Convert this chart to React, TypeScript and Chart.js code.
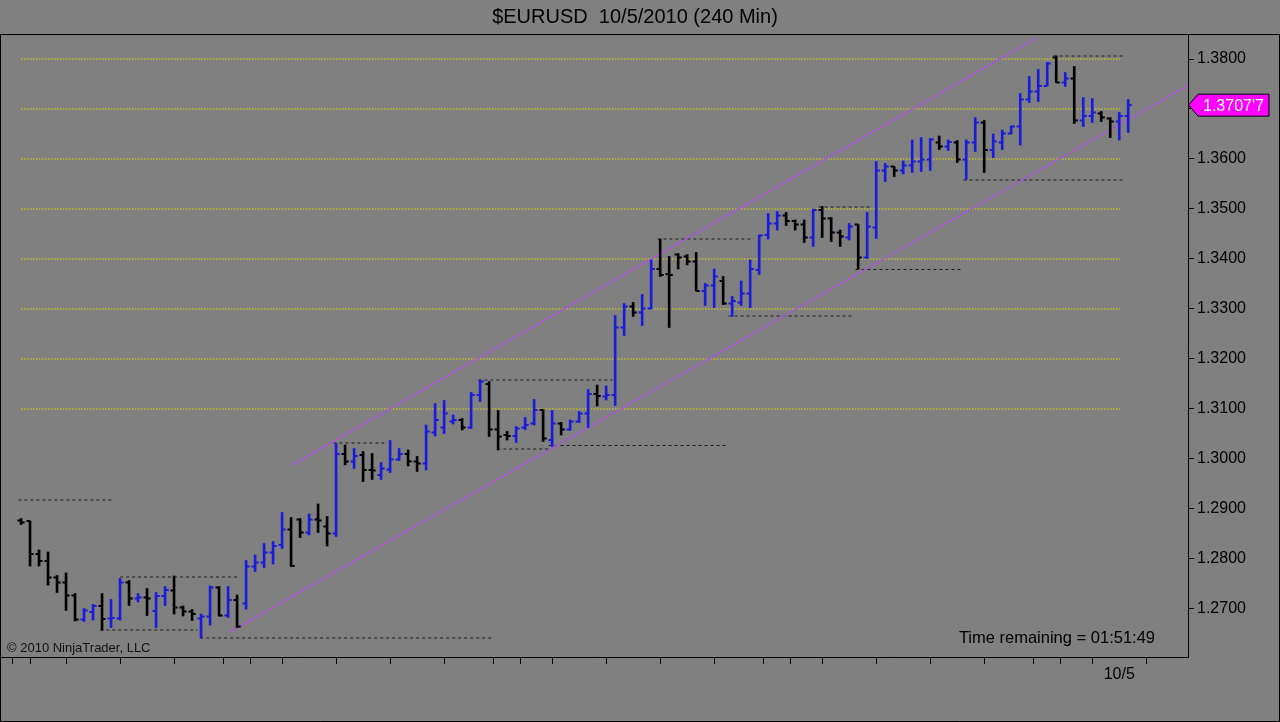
import React, { useEffect, useRef } from "react";
import { Chart, registerables } from "chart.js";
Chart.register(...registerables);

// ---- OHLC data (240 min bars, EURUSD) ----
const opens = [
  1.2877, 1.2876, 1.2810, 1.2796, 1.2763, 1.2753, 1.2727, 1.2679, 1.2694, 1.2706,
  1.2681, 1.2681, 1.2753, 1.2721, 1.2723, 1.2696, 1.2726, 1.2737, 1.2703, 1.2695,
  1.2681, 1.2685, 1.2743, 1.2687, 1.2718, 1.2711, 1.2785, 1.2793, 1.2813, 1.2828,
  1.2859, 1.2879, 1.2853, 1.2879, 1.2865, 1.2851, 1.3010, 1.2995, 1.3008, 1.2978,
  1.2968, 1.2979, 1.2999, 1.3010, 1.2995, 1.2991, 1.3053, 1.3063, 1.3075, 1.3078,
  1.3063, 1.3128, 1.3150, 1.3059, 1.3048, 1.3046, 1.3063, 1.3071, 1.3098, 1.3038,
  1.3071, 1.3059, 1.3075, 1.3091, 1.3130, 1.3125, 1.3128, 1.3263, 1.3305, 1.3293,
  1.3301, 1.3380, 1.3370, 1.3409, 1.3405, 1.3395, 1.3336, 1.3347, 1.3356, 1.3311,
  1.3313, 1.3331, 1.3378, 1.3448, 1.3471, 1.3487, 1.3476, 1.3469, 1.3443, 1.3498,
  1.3481, 1.3453, 1.3443, 1.3469, 1.3403, 1.3463, 1.3577, 1.3585, 1.3577, 1.3587,
  1.3595, 1.3599, 1.3633, 1.3625, 1.3633, 1.3599, 1.3633, 1.3673, 1.3618, 1.3633,
  1.3651, 1.3665, 1.3719, 1.3735, 1.3746, 1.3803, 1.3753, 1.3761, 1.3677, 1.3686,
  1.3691, 1.3681, 1.3675, 1.3686,
];
const highs = [
  1.2881, 1.2876, 1.2818, 1.2814, 1.2767, 1.2772, 1.2731, 1.2701, 1.2709, 1.2731,
  1.2719, 1.2761, 1.2757, 1.2731, 1.2741, 1.2733, 1.2745, 1.2766, 1.2706, 1.2699,
  1.2690, 1.2746, 1.2745, 1.2745, 1.2728, 1.2797, 1.2808, 1.2831, 1.2835, 1.2893,
  1.2883, 1.2881, 1.2890, 1.2910, 1.2885, 1.3031, 1.3028, 1.3021, 1.3015, 1.3011,
  1.2993, 1.3037, 1.3021, 1.3018, 1.3005, 1.3068, 1.3111, 1.3117, 1.3088, 1.3081,
  1.3133, 1.3158, 1.3155, 1.3097, 1.3055, 1.3065, 1.3083, 1.3119, 1.3099, 1.3097,
  1.3073, 1.3078, 1.3095, 1.3139, 1.3148, 1.3146, 1.3287, 1.3311, 1.3313, 1.3329,
  1.3398, 1.3440, 1.3405, 1.3411, 1.3409, 1.3413, 1.3351, 1.3380, 1.3365, 1.3325,
  1.3356, 1.3398, 1.3448, 1.3491, 1.3495, 1.3493, 1.3478, 1.3478, 1.3500, 1.3505,
  1.3483, 1.3458, 1.3471, 1.3469, 1.3493, 1.3595, 1.3591, 1.3585, 1.3596, 1.3638,
  1.3643, 1.3641, 1.3646, 1.3638, 1.3637, 1.3638, 1.3683, 1.3677, 1.3650, 1.3658,
  1.3666, 1.3731, 1.3765, 1.3779, 1.3793, 1.3806, 1.3773, 1.3785, 1.3723, 1.3721,
  1.3695, 1.3683, 1.3693, 1.3719,
];
const lows = [
  1.2869, 1.2786, 1.2786, 1.2748, 1.2733, 1.2697, 1.2676, 1.2675, 1.2678, 1.2658,
  1.2663, 1.2678, 1.2707, 1.2714, 1.2687, 1.2663, 1.2707, 1.2690, 1.2686, 1.2677,
  1.2642, 1.2668, 1.2686, 1.2683, 1.2663, 1.2700, 1.2775, 1.2783, 1.2790, 1.2821,
  1.2785, 1.2843, 1.2848, 1.2853, 1.2826, 1.2845, 1.2988, 1.2981, 1.2955, 1.2959,
  1.2959, 1.2973, 1.2997, 1.2986, 1.2975, 1.2978, 1.3046, 1.3051, 1.3070, 1.3058,
  1.3061, 1.3115, 1.3045, 1.3018, 1.3038, 1.3033, 1.3059, 1.3068, 1.3035, 1.3025,
  1.3048, 1.3057, 1.3073, 1.3063, 1.3106, 1.3118, 1.3107, 1.3247, 1.3285, 1.3267,
  1.3300, 1.3365, 1.3263, 1.3380, 1.3388, 1.3336, 1.3307, 1.3303, 1.3309, 1.3285,
  1.3307, 1.3303, 1.3369, 1.3440, 1.3458, 1.3467, 1.3458, 1.3433, 1.3425, 1.3443,
  1.3435, 1.3425, 1.3438, 1.3380, 1.3401, 1.3441, 1.3555, 1.3565, 1.3570, 1.3573,
  1.3575, 1.3577, 1.3619, 1.3617, 1.3593, 1.3559, 1.3615, 1.3573, 1.3603, 1.3619,
  1.3650, 1.3628, 1.3713, 1.3715, 1.3746, 1.3753, 1.3745, 1.3671, 1.3665, 1.3673,
  1.3675, 1.3643, 1.3638, 1.3653,
];
const closes = [
  1.2873, 1.2810, 1.2796, 1.2763, 1.2753, 1.2727, 1.2679, 1.2697, 1.2706, 1.2680,
  1.2682, 1.2753, 1.2721, 1.2723, 1.2721, 1.2726, 1.2738, 1.2703, 1.2695, 1.2690,
  1.2685, 1.2743, 1.2687, 1.2718, 1.2665, 1.2785, 1.2793, 1.2813, 1.2826, 1.2859,
  1.2786, 1.2853, 1.2879, 1.2877, 1.2851, 1.3010, 1.2995, 1.3006, 1.2978, 1.2977,
  1.2981, 1.2999, 1.3010, 1.2995, 1.2991, 1.3055, 1.3078, 1.3091, 1.3078, 1.3063,
  1.3128, 1.3155, 1.3059, 1.3045, 1.3046, 1.3061, 1.3068, 1.3098, 1.3041, 1.3071,
  1.3059, 1.3075, 1.3091, 1.3130, 1.3126, 1.3128, 1.3263, 1.3305, 1.3293, 1.3301,
  1.3380, 1.3368, 1.3368, 1.3403, 1.3395, 1.3336, 1.3347, 1.3365, 1.3311, 1.3316,
  1.3331, 1.3380, 1.3447, 1.3471, 1.3487, 1.3476, 1.3469, 1.3443, 1.3498, 1.3481,
  1.3453, 1.3445, 1.3465, 1.3403, 1.3465, 1.3577, 1.3585, 1.3577, 1.3587, 1.3595,
  1.3599, 1.3639, 1.3625, 1.3634, 1.3599, 1.3633, 1.3673, 1.3618, 1.3635, 1.3651,
  1.3665, 1.3719, 1.3735, 1.3746, 1.3791, 1.3753, 1.3761, 1.3677, 1.3686, 1.3693,
  1.3683, 1.3675, 1.3686, 1.37077,
];

// ---- axis ticks ----
const xTickIdx = [0, 2, 8, 14, 20, 25, 26, 32, 38, 44, 50, 55, 56, 62, 68, 74, 80, 85, 86, 92, 98, 104, 110, 115, 116, 122];
const xLabelIdx = [122];
const xLabelText = ["10/5"];
const yTicks = [1.27, 1.28, 1.29, 1.30, 1.31, 1.32, 1.33, 1.34, 1.35, 1.36, 1.37, 1.38];

// ---- horizontal yellow levels ----
const goldLevels = [1.31, 1.32, 1.33, 1.34, 1.35, 1.36, 1.37, 1.38];
const goldStart = 0.0;
const goldEnd = 122.1;

// ---- dashed support / resistance lines ----
const dashLevels = [1.2918, 1.2764, 1.2658, 1.2642, 1.3032, 1.3158, 1.3020, 1.3027, 1.3440, 1.3286, 1.3504, 1.3379, 1.3558, 1.3806];
const dashStart = [-0.3, 11.0, 8.8, 19.9, 34.7, 50.8, 52.9, 58.6, 70.7, 78.6, 88.6, 92.7, 104.7, 114.7];
const dashEnd = [10.4, 24.3, 19.6, 52.4, 40.4, 65.7, 58.6, 78.4, 81.4, 92.4, 94.3, 104.6, 122.4, 122.4];

// ---- trend channel ----
const upperX = [30.1, 112.8];
const upperY = [1.2988, 1.3842];
const lowerX = [23.2, 129.7];
const lowerY = [1.2654, 1.3748];

const X_MIN = -1.67;
const X_MAX = 129.64;
const Y_MIN = 1.2604;
const Y_MAX = 1.3848;

const FONT = "'Liberation Sans', Arial, sans-serif";
const UP = "#1b1bdc";
const DOWN = "#000000";

export default function App() {
  const ref = useRef<HTMLCanvasElement | null>(null);

  useEffect(() => {
    document.body.style.margin = "0";
    document.body.style.background = "#808080";
    const canvas = ref.current;
    if (!canvas) return;

    const colors = closes.map((c, i) => (c > opens[i] ? UP : DOWN));

    const datasets: any[] = [];

    goldLevels.forEach((lvl) => {
      datasets.push({
        type: "line",
        data: [
          { x: goldStart, y: lvl },
          { x: goldEnd, y: lvl },
        ],
        borderColor: "#dede00",
        borderWidth: 1.2,
        borderDash: [1.5, 1.5],
        pointRadius: 0,
        order: 10,
      });
    });

    dashLevels.forEach((lvl, k) => {
      datasets.push({
        type: "line",
        data: [
          { x: dashStart[k], y: lvl },
          { x: dashEnd[k], y: lvl },
        ],
        borderColor: "#1e1e1e",
        borderWidth: 1,
        borderDash: [3, 3],
        pointRadius: 0,
        order: 9,
      });
    });

    [
      [upperX, upperY],
      [lowerX, lowerY],
    ].forEach(([xs, ys]) => {
      datasets.push({
        type: "line",
        data: xs.map((x, k) => ({ x, y: ys[k] })),
        borderColor: "#a25ccb",
        borderWidth: 1.6,
        pointRadius: 0,
        order: 8,
      });
    });

    datasets.push({
      type: "bar",
      data: highs.map((h, i) => ({ x: i, y: [lows[i], h] })),
      backgroundColor: colors,
      borderWidth: 0,
      barThickness: 2,
      grouped: false,
      order: 3,
    });

    datasets.push({
      type: "scatter",
      data: opens.map((o, i) => ({ x: i - 0.2, y: o })),
      pointStyle: "line",
      pointRadius: 1.8,
      pointBorderWidth: 2,
      pointBorderColor: colors,
      pointBackgroundColor: colors,
      showLine: false,
      order: 2,
    });

    datasets.push({
      type: "scatter",
      data: closes.map((c, i) => ({ x: i + 0.2, y: c })),
      pointStyle: "line",
      pointRadius: 1.8,
      pointBorderWidth: 2,
      pointBorderColor: colors,
      pointBackgroundColor: colors,
      showLine: false,
      order: 1,
    });

    const decor = {
      id: "decor",
      beforeDraw(chart: any) {
        const ctx = chart.ctx;
        ctx.save();
        ctx.fillStyle = "#808080";
        ctx.fillRect(0, 0, chart.width, chart.height);
        ctx.restore();
      },
      afterDraw(chart: any) {
        const ctx = chart.ctx;
        const ca = chart.chartArea;
        const W = chart.width;
        const H = chart.height;
        ctx.save();
        ctx.strokeStyle = "#000";
        ctx.lineWidth = 1;
        ctx.beginPath();
        ctx.moveTo(0, ca.top - 0.5);
        ctx.lineTo(W, ca.top - 0.5);
        ctx.moveTo(0.5, ca.top - 0.5);
        ctx.lineTo(0.5, H - 0.5);
        ctx.lineTo(W - 0.5, H - 0.5);
        ctx.lineTo(W - 0.5, ca.top - 0.5);
        ctx.moveTo(0, ca.bottom + 0.5);
        ctx.lineTo(ca.left + 1, ca.bottom + 0.5);
        ctx.stroke();

        ctx.fillStyle = "#000";
        ctx.font = `20px ${FONT}`;
        ctx.textAlign = "center";
        ctx.textBaseline = "middle";
        ctx.fillText("$EURUSD  10/5/2010 (240 Min)", 635, 17);

        ctx.font = `13px ${FONT}`;
        ctx.textAlign = "left";
        ctx.fillStyle = "#111";
        ctx.fillText("\u00A9 2010 NinjaTrader, LLC", 7, ca.bottom - 9);

        ctx.font = `16.5px ${FONT}`;
        ctx.textAlign = "right";
        ctx.fillStyle = "#000";
        ctx.fillText("Time remaining = 01:51:49", ca.right - 33, ca.bottom - 19);

        const last = closes[closes.length - 1];
        const s = last.toFixed(5);
        const label = s.slice(0, -1) + "'" + s.slice(-1);
        const py = chart.scales.y.getPixelForValue(last);
        const x0 = ca.right;
        ctx.beginPath();
        ctx.moveTo(x0 + 0.5, py);
        ctx.lineTo(x0 + 10, py - 11);
        ctx.lineTo(x0 + 81, py - 11);
        ctx.lineTo(x0 + 81, py + 11);
        ctx.lineTo(x0 + 10, py + 11);
        ctx.closePath();
        ctx.fillStyle = "#ff00ff";
        ctx.fill();
        ctx.strokeStyle = "#000";
        ctx.stroke();
        ctx.fillStyle = "#ffffff";
        ctx.font = `16px ${FONT}`;
        ctx.textAlign = "left";
        ctx.fillText(label, x0 + 15, py + 1);
        ctx.restore();
      },
    };

    const chart = new Chart(canvas, {
      type: "scatter",
      data: { datasets },
      options: {
        animation: false,
        responsive: false,
        events: [],
        layout: { padding: { top: 35, left: 1, right: 0, bottom: 0 } },
        plugins: {
          legend: { display: false },
          title: { display: false },
          tooltip: { enabled: false },
        },
        scales: {
          x: {
            type: "linear",
            min: X_MIN,
            max: X_MAX,
            offset: false,
            afterBuildTicks(scale: any) {
              scale.ticks = xTickIdx.map((v) => ({ value: v }));
            },
            afterFit(scale: any) {
              scale.height = 65;
            },
            grid: {
              drawOnChartArea: false,
              drawTicks: true,
              tickLength: 7,
              color: "#000",
              lineWidth: 1,
            },
            border: { display: true, color: "#000", width: 1 },
            ticks: {
              autoSkip: false,
              maxRotation: 0,
              padding: 1,
              color: "#000",
              font: { family: FONT, size: 16 },
              callback(v: any) {
                const k = xLabelIdx.indexOf(Number(v));
                return k >= 0 ? xLabelText[k] : "";
              },
            },
          },
          y: {
            type: "linear",
            position: "right",
            min: Y_MIN,
            max: Y_MAX,
            afterBuildTicks(scale: any) {
              scale.ticks = yTicks.map((v) => ({ value: v }));
            },
            afterFit(scale: any) {
              scale.width = 92;
            },
            grid: {
              drawOnChartArea: false,
              drawTicks: true,
              tickLength: 6,
              color: "#000",
              lineWidth: 1,
            },
            border: { display: true, color: "#000", width: 1 },
            ticks: {
              padding: 3,
              color: "#000",
              font: { family: FONT, size: 16 },
              callback(v: any) {
                return Number(v).toFixed(4);
              },
            },
          },
        },
      },
      plugins: [decor],
    } as any);

    return () => chart.destroy();
  }, []);

  return (
    <div style={{ width: 1280, height: 722, background: "#808080" }}>
      <canvas ref={ref} width={1280} height={722} style={{ display: "block" }} />
    </div>
  );
}
